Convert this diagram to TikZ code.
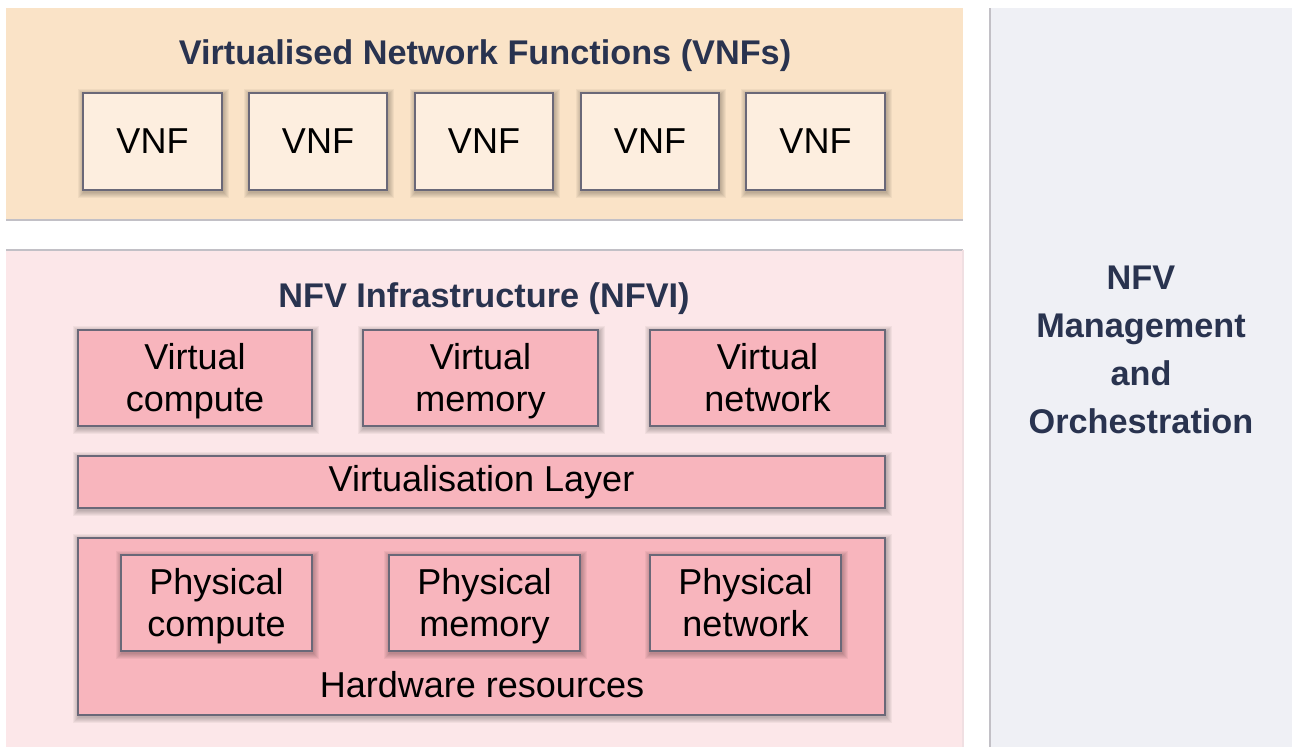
\documentclass[tikz,border=0pt]{standalone}
\usepackage{fontspec}
\setmainfont{Liberation Sans}

\definecolor{peach}{HTML}{FAE3C7}
\definecolor{vnffill}{HTML}{FDEEDF}
\definecolor{pinkpanel}{HTML}{FCE7E9}
\definecolor{pinkbox}{HTML}{F8B5BD}
\definecolor{manopanel}{HTML}{EFF0F5}
\definecolor{paneledge}{HTML}{C2C0C6}
\definecolor{boxedge}{HTML}{6A6878}
\definecolor{navy}{HTML}{29334F}

\tikzset{
  boxbase/.style={draw=boxedge, line width=0.8pt, inner sep=0pt, outer sep=0pt,
    align=center, font=\fontsize{20.5}{24.4}\selectfont},
  vnfbox/.style={boxbase, fill=vnffill},
  pinkbox/.style={boxbase, fill=pinkbox},
  softshadow/.style={fill=black, opacity=0.045},
  heading/.style={text=navy, align=center,
    font=\fontsize{19.5}{27.2}\selectfont\bfseries},
}

% two-line labels: a taller first line sets the pair slightly low in the box
\newcommand\twolines[2]{\rule{0pt}{21.6pt}#1\\#2\strut}

% rectangle node from pixel corners (x1,y1)-(x2,y2), with a soft shadow below it
\newcommand\pxbox[7]{%
  \foreach \d in {1,...,6}
    \fill[softshadow] ({#2-\d+0.5},{#3-\d+1.5}) rectangle ({#4+\d+0.5},{#5+\d+1.5});
  \node[#6, minimum width={(#4-#2)*0.02cm}, minimum height={(#5-#3)*0.02cm}]
    (#1) at ({(#2+#4)/2},{(#3+#5)/2}) {#7};}

\begin{document}
\begin{tikzpicture}[x=0.02cm, y=-0.02cm]
\useasboundingbox (0,0) rectangle (1292,747);
\fill[white] (0,0) rectangle (1292,747);

% background panels
\fill[peach] (6,8) rectangle (963,220);
\draw[paneledge, line width=0.6pt] (6,220) -- (963,220);
\fill[pinkpanel] (6,250) rectangle (963,747);
\draw[paneledge, line width=0.6pt] (6,250) -- (963,250);
\draw[pinkpanel!80!paneledge, line width=0.6pt] (963,250) -- (963,747);
\fill[manopanel] (990,8) rectangle (1292,747);
\draw[paneledge, line width=0.6pt] (990,8) -- (990,747);

% VNF layer
\node[heading] (vnftitle) at (485,56) {Virtualised Network Functions (VNFs)};
\pxbox{vnf1}{83}{93}{222}{190}{vnfbox}{VNF}
\pxbox{vnf2}{249}{93}{387}{190}{vnfbox}{VNF}
\pxbox{vnf3}{415}{93}{553}{190}{vnfbox}{VNF}
\pxbox{vnf4}{581}{93}{719}{190}{vnfbox}{VNF}
\pxbox{vnf5}{746}{93}{885}{190}{vnfbox}{VNF}

% NFV infrastructure
\node[heading] (nfvititle) at (484,299) {NFV Infrastructure (NFVI)};
\pxbox{vcomp}{78}{330}{312}{426}{pinkbox}{\twolines{Virtual}{compute}}
\pxbox{vmem}{363}{330}{598}{426}{pinkbox}{\twolines{Virtual}{memory}}
\pxbox{vnet}{650}{330}{885}{426}{pinkbox}{\twolines{Virtual}{network}}
\pxbox{virt}{78}{456}{885}{508}{pinkbox}{Virtualisation Layer}
\pxbox{hw}{78}{538}{885}{715}{pinkbox}{}
\node[font=\fontsize{20.5}{24.4}\selectfont] (hwlabel) at (482,685) {Hardware resources};
\pxbox{pcomp}{121}{555}{312}{651}{pinkbox}{\twolines{Physical}{compute}}
\pxbox{pmem}{389}{555}{580}{651}{pinkbox}{\twolines{Physical}{memory}}
\pxbox{pnet}{650}{555}{841}{651}{pinkbox}{\twolines{Physical}{network}}

% management and orchestration
\node[heading] (mano) at (1141,350) {NFV\\Management\\and\\Orchestration};
\end{tikzpicture}
\end{document}
